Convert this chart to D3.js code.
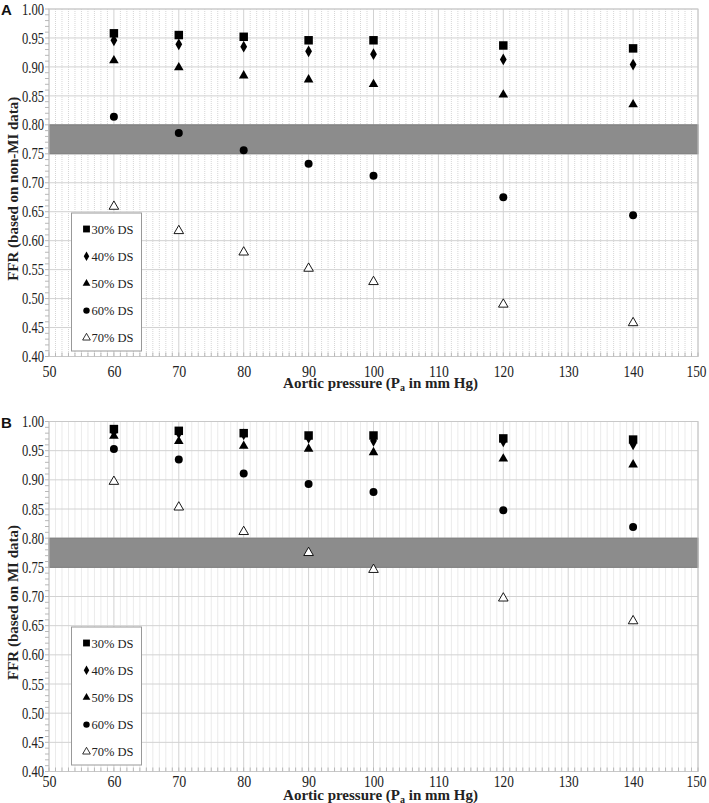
<!DOCTYPE html>
<html>
<head>
<meta charset="utf-8">
<script src="https://cdn.jsdelivr.net/npm/d3@7"></script>
<style>
  html, body { margin: 0; padding: 0; background: #fff; }
  svg { display: block; }
  text { font-family: 'Liberation Serif', 'Times New Roman', serif; }
</style>
</head>
<body>
<svg id="chart" width="709" height="803"></svg>
<script>
// ---------- DATA ----------
const pressures = [60, 70, 80, 90, 100, 120, 140];
const seriesLabels = ["30% DS", "40% DS", "50% DS", "60% DS", "70% DS"];

// Panel A: FFR based on non-MI data
const nonMI_30 = [0.958, 0.955, 0.952, 0.946, 0.946, 0.937, 0.932];
const nonMI_40 = [0.946, 0.939, 0.935, 0.927, 0.922, 0.913, 0.904];
const nonMI_50 = [0.911, 0.899, 0.885, 0.878, 0.870, 0.852, 0.835];
const nonMI_60 = [0.814, 0.786, 0.756, 0.733, 0.712, 0.675, 0.644];
const nonMI_70 = [0.659, 0.617, 0.580, 0.552, 0.529, 0.490, 0.458];

// Panel B: FFR based on MI data
const MI_30 = [0.987, 0.984, 0.980, 0.976, 0.976, 0.971, 0.969];
const MI_40 = [0.982, 0.980, 0.978, 0.972, 0.967, 0.966, 0.961];
const MI_50 = [0.975, 0.966, 0.958, 0.953, 0.947, 0.936, 0.926];
const MI_60 = [0.953, 0.935, 0.911, 0.893, 0.879, 0.848, 0.819];
const MI_70 = [0.897, 0.853, 0.811, 0.775, 0.746, 0.697, 0.658];

const xTickValues = [50, 60, 70, 80, 90, 100, 110, 120, 130, 140, 150];
const yTickValues = [0.40, 0.45, 0.50, 0.55, 0.60, 0.65, 0.70, 0.75, 0.80, 0.85, 0.90, 0.95, 1.00];
const bandRange = [0.75, 0.80];

// ---------- DRAW ----------
const svg = d3.select("#chart");
const serif = "'Liberation Serif', 'Times New Roman', serif";

const symbolDefs = [
  { type: d3.symbolSquare, size: 72, fill: "#000" },
  { type: d3.symbolDiamond, size: 40, fill: "#000" },
  { type: d3.symbolTriangle, size: 40, fill: "#000" },
  { type: d3.symbolCircle, size: 50, fill: "#000" },
  { type: d3.symbolTriangle, size: 40, fill: "#fff", stroke: "#000" }
];

function drawPanel(opts) {
  const { top, bottom, left, right, series, letter, yTitle, legendTop, xLabPad, xTitleOff } = opts;
  const x = d3.scaleLinear().domain([50, 150]).range([left, right]);
  const y = d3.scaleLinear().domain([0.40, 1.00]).range([bottom, top]);
  const g = svg.append("g");

  // minor vertical gridlines (dotted), every 1 unit
  const minorX = d3.range(51, 150, 1).filter(v => v % 10 !== 0);
  g.append("g").selectAll("line").data(minorX).join("line")
    .attr("x1", d => x(d)).attr("x2", d => x(d))
    .attr("y1", top).attr("y2", bottom)
    .attr("stroke", "#d6d6d6").attr("stroke-width", 1)
    .attr("stroke-dasharray", "1,1");

  // major gridlines
  g.append("g").selectAll("line").data(yTickValues).join("line")
    .attr("x1", left).attr("x2", right)
    .attr("y1", d => y(d)).attr("y2", d => y(d))
    .attr("stroke", "#d2d2d2").attr("stroke-width", 1);
  g.append("g").selectAll("line").data(xTickValues).join("line")
    .attr("x1", d => x(d)).attr("x2", d => x(d))
    .attr("y1", top).attr("y2", bottom)
    .attr("stroke", "#d2d2d2").attr("stroke-width", 1);

  // gray band
  g.append("rect")
    .attr("x", left).attr("width", right - left)
    .attr("y", y(bandRange[1])).attr("height", y(bandRange[0]) - y(bandRange[1]))
    .attr("fill", "#8c8c8c").attr("stroke", "#7c7c7c").attr("stroke-width", 1);

  // frame
  g.append("rect")
    .attr("x", left).attr("y", top)
    .attr("width", right - left).attr("height", bottom - top)
    .attr("fill", "none").attr("stroke", "#c8c8c8").attr("stroke-width", 1);

  // minor ticks on axes
  const minorY = d3.range(0.40, 1.0001, 0.01);
  g.append("g").selectAll("line").data(minorY).join("line")
    .attr("x1", left - 4).attr("x2", left)
    .attr("y1", d => y(d)).attr("y2", d => y(d))
    .attr("stroke", "#b8b8b8").attr("stroke-width", 1);
  g.append("g").selectAll("line").data(d3.range(50, 151, 1)).join("line")
    .attr("x1", d => x(d)).attr("x2", d => x(d))
    .attr("y1", bottom - 4).attr("y2", bottom)
    .attr("stroke", "#b8b8b8").attr("stroke-width", 1);

  // axes labels via d3 axes
  const yAxis = d3.axisLeft(y).tickValues(yTickValues).tickFormat(d3.format(".2f")).tickSize(0).tickPadding(5);
  const ya = g.append("g").attr("transform", `translate(${left},0)`).call(yAxis);
  ya.attr("font-family", null);
  ya.select(".domain").remove();
  ya.selectAll("text").style("font-family", serif).attr("font-size", 16)
    .attr("textLength", 22).attr("lengthAdjust", "spacingAndGlyphs")
    .attr("fill", "#222");

  const xAxis = d3.axisBottom(x).tickValues(xTickValues).tickFormat(d3.format("d")).tickSize(0).tickPadding(xLabPad);
  const xa = g.append("g").attr("transform", `translate(0,${bottom})`).call(xAxis);
  xa.attr("font-family", null);
  xa.select(".domain").remove();
  xa.selectAll("text").style("font-family", serif).attr("font-size", 16).attr("fill", "#222")
    .attr("textLength", d => d >= 100 ? 20 : 14).attr("lengthAdjust", "spacingAndGlyphs")
    .attr("dx", d => d === 150 ? -2 : 0);

  // axis titles
  const xt = g.append("text")
    .attr("x", (left + right) / 2 + 7).attr("y", bottom + xTitleOff)
    .attr("text-anchor", "middle")
    .style("font-family", serif).attr("font-weight", "bold").attr("font-size", 15)
    .attr("fill", "#222");
  xt.append("tspan").text("Aortic pressure (P");
  xt.append("tspan").attr("font-size", 10).attr("dy", 3).text("a");
  xt.append("tspan").attr("dy", -3).text(" in mm Hg)");

  g.append("text")
    .attr("transform", `translate(${18},${(top + bottom) / 2 + 6}) rotate(-90)`)
    .attr("text-anchor", "middle")
    .style("font-family", serif).attr("font-weight", "bold").attr("font-size", 15)
    .attr("fill", "#222")
    .text(yTitle);

  // panel letter
  g.append("text")
    .attr("x", 1).attr("y", top + 6)
    .style("font-family", "'Liberation Sans', Arial, sans-serif")
    .attr("font-weight", "bold").attr("font-size", 15).attr("fill", "#111")
    .text(letter);

  // data points
  series.forEach((vals, i) => {
    const s = symbolDefs[i];
    g.append("g").selectAll("path").data(vals).join("path")
      .attr("transform", (d, j) => `translate(${x(pressures[j])},${y(d)})`)
      .attr("d", d3.symbol().type(s.type).size(s.size))
      .attr("fill", s.fill)
      .attr("stroke", s.stroke || "none")
      .attr("stroke-width", 0.9);
  });

  // legend
  const lg = g.append("g");
  const rowH = 27.2;
  lg.append("rect")
    .attr("x", 71.5).attr("y", legendTop)
    .attr("width", 70).attr("height", rowH * 5 + 2)
    .attr("fill", "#fff").attr("stroke", "#999").attr("stroke-width", 1);
  seriesLabels.forEach((lab, i) => {
    const s = symbolDefs[i];
    const cy = legendTop + 16 + i * rowH;
    lg.append("path")
      .attr("transform", `translate(86.5,${cy})`)
      .attr("d", d3.symbol().type(s.type).size(s.size * 0.65))
      .attr("fill", s.fill).attr("stroke", s.stroke || "none").attr("stroke-width", 0.8);
    lg.append("text")
      .attr("x", 91.5).attr("y", cy + 4.5)
      .style("font-family", serif).attr("font-size", 12.5).attr("fill", "#222")
      .text(lab);
  });
}

drawPanel({
  top: 9, bottom: 356.5, left: 49, right: 698,
  series: [nonMI_30, nonMI_40, nonMI_50, nonMI_60, nonMI_70],
  letter: "A", yTitle: "FFR (based on non-MI data)", legendTop: 213,
  xLabPad: 9, xTitleOff: 31
});
drawPanel({
  top: 421.5, bottom: 771.5, left: 49, right: 698,
  series: [MI_30, MI_40, MI_50, MI_60, MI_70],
  letter: "B", yTitle: "FFR (based on MI data)", legendTop: 627,
  xLabPad: 4, xTitleOff: 28
});
</script>
</body>
</html>
